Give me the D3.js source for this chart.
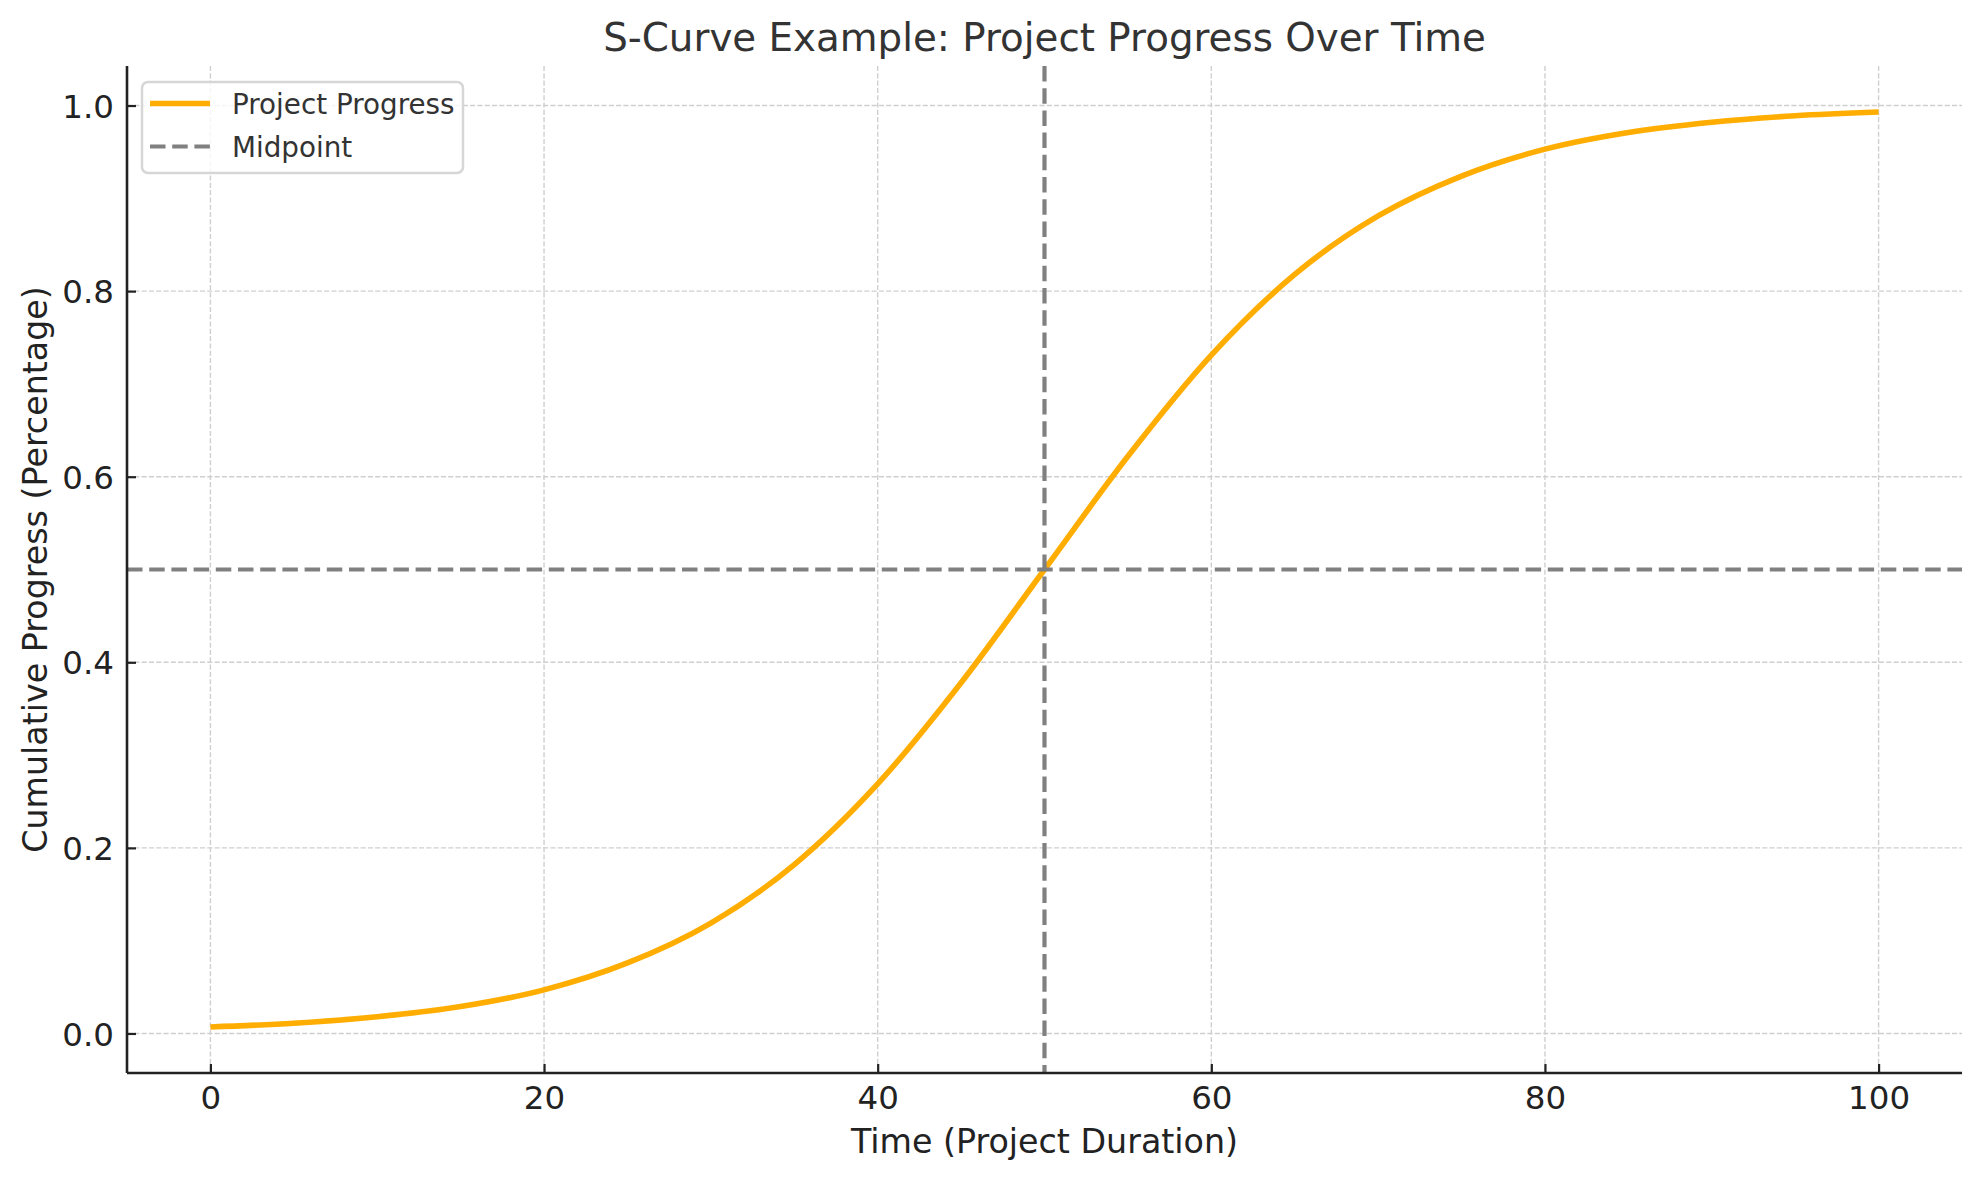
<!DOCTYPE html>
<html>
<head>
<meta charset="utf-8">
<script src="https://cdn.jsdelivr.net/npm/d3@7"></script>
<style>
  body { margin: 0; background: #fff; }
  text { font-family: "DejaVu Sans", sans-serif; }
</style>
</head>
<body>
<div id="chart"></div>
<script>
// values
var timePoints = [0, 5, 10, 15, 20, 25, 30, 35, 40, 45, 50, 55, 60, 65, 70, 75, 80, 85, 90, 95, 100];
var progressValues = [0.007, 0.011, 0.018, 0.029, 0.047, 0.076, 0.119, 0.182, 0.269, 0.378, 0.500,
                      0.622, 0.731, 0.818, 0.881, 0.924, 0.953, 0.971, 0.982, 0.989, 0.993];
var midTime = 50;
var midProgress = 0.5;
var xTicks = [0, 20, 40, 60, 80, 100];
var yTicks = [0.0, 0.2, 0.4, 0.6, 0.8, 1.0];
var seriesNames = ["Project Progress", "Midpoint"];

var W = 1979, H = 1180;
var plotLeft = 127, plotRight = 1962, plotTop = 66, plotBottom = 1073;
var curveColor = "#ffad00", midColor = "#808080";

var svg = d3.select("#chart").append("svg")
  .attr("width", W).attr("height", H);

var x = d3.scaleLinear().domain([-5, 105]).range([plotLeft, plotRight]);
var y = d3.scaleLinear().domain([-0.0426, 1.0426]).range([plotBottom, plotTop]);

// grid
var grid = svg.append("g");
grid.selectAll("line.vg").data(xTicks).enter().append("line")
  .attr("x1", function (d) { return x(d); }).attr("x2", function (d) { return x(d); })
  .attr("y1", plotTop).attr("y2", plotBottom);
grid.selectAll("line.hg").data(yTicks).enter().append("line")
  .attr("y1", function (d) { return y(d); }).attr("y2", function (d) { return y(d); })
  .attr("x1", plotLeft).attr("x2", plotRight);
grid.selectAll("line")
  .attr("stroke", "#cfcfcf").attr("stroke-width", 1.4)
  .attr("stroke-dasharray", "5.1,2.2");

// the s-curve
var data = timePoints.map(function (t, i) { return [t, progressValues[i]]; });
var line = d3.line()
  .x(function (d) { return x(d[0]); })
  .y(function (d) { return y(d[1]); })
  .curve(d3.curveMonotoneX);
svg.append("path").datum(data)
  .attr("d", line)
  .attr("fill", "none")
  .attr("stroke", curveColor)
  .attr("stroke-width", 5.6);

// midpoint lines
svg.append("line")
  .attr("x1", x(midTime)).attr("x2", x(midTime))
  .attr("y1", plotTop).attr("y2", plotBottom)
  .attr("stroke", midColor).attr("stroke-width", 4.2)
  .attr("stroke-dasharray", "15.5,6.7");
svg.append("line")
  .attr("x1", plotLeft).attr("x2", plotRight)
  .attr("y1", y(midProgress)).attr("y2", y(midProgress))
  .attr("stroke", midColor).attr("stroke-width", 4.2)
  .attr("stroke-dasharray", "15.5,6.7");

// axes (ticks point inward)
var xAxis = d3.axisBottom(x).tickValues(xTicks).tickSizeInner(-9).tickSizeOuter(0)
  .tickPadding(0).tickFormat(d3.format("d"));
var gx = svg.append("g").attr("transform", "translate(0," + plotBottom + ")").call(xAxis);
gx.selectAll(".tick line").attr("stroke", "#222").attr("stroke-width", 2.2);
gx.selectAll(".tick text")
  .attr("y", 36).attr("dy", null)
  .attr("fill", "#222").style("font-size", "32.5px");

var yAxis = d3.axisLeft(y).tickValues(yTicks).tickSizeInner(-9).tickSizeOuter(0)
  .tickPadding(0).tickFormat(d3.format(".1f"));
var gy = svg.append("g").attr("transform", "translate(" + plotLeft + ",0)").call(yAxis);
gy.selectAll(".tick line").attr("stroke", "#222").attr("stroke-width", 2.2);
gy.selectAll(".tick text")
  .attr("x", -13).attr("dy", "0.36em")
  .attr("fill", "#222").style("font-size", "32.5px");
gx.select(".domain").remove();
gy.select(".domain").remove();

// spines: left and bottom only
svg.append("line").attr("x1", plotLeft).attr("x2", plotRight).attr("y1", plotBottom).attr("y2", plotBottom)
  .attr("stroke", "#222").attr("stroke-width", 2.6);
svg.append("line").attr("x1", plotLeft).attr("x2", plotLeft).attr("y1", plotTop).attr("y2", plotBottom)
  .attr("stroke", "#222").attr("stroke-width", 2.6);

// titles
svg.append("text")
  .attr("x", (plotLeft + plotRight) / 2).attr("y", 51)
  .attr("text-anchor", "middle").attr("fill", "#333")
  .style("font-size", "38.8px")
  .text("S-Curve Example: Project Progress Over Time");
svg.append("text")
  .attr("x", (plotLeft + plotRight) / 2).attr("y", 1153)
  .attr("text-anchor", "middle").attr("fill", "#222")
  .style("font-size", "33.3px")
  .text("Time (Project Duration)");
svg.append("text")
  .attr("transform", "translate(47," + (plotTop + plotBottom) / 2 + ") rotate(-90)")
  .attr("text-anchor", "middle").attr("fill", "#222")
  .style("font-size", "33.3px")
  .text("Cumulative Progress (Percentage)");

// legend
var lg = svg.append("g");
lg.append("rect")
  .attr("x", 142).attr("y", 82).attr("width", 321).attr("height", 91)
  .attr("rx", 6).attr("ry", 6)
  .attr("fill", "#fff").attr("fill-opacity", 0.8)
  .attr("stroke", "#d6d6d6").attr("stroke-width", 2.5);
var rows = lg.selectAll("g.row").data(seriesNames).enter().append("g")
  .attr("transform", function (d, i) { return "translate(0," + (103.5 + i * 43) + ")"; });
rows.append("line")
  .attr("x1", 150).attr("x2", 210).attr("y1", 0).attr("y2", 0)
  .attr("stroke", function (d, i) { return i === 0 ? curveColor : midColor; })
  .attr("stroke-width", function (d, i) { return i === 0 ? 5.6 : 4.2; })
  .attr("stroke-dasharray", function (d, i) { return i === 0 ? null : "15.5,6.7"; });
rows.append("text")
  .attr("x", 232).attr("y", 10.5)
  .attr("fill", "#333").style("font-size", "27.8px")
  .text(function (d) { return d; });
</script>
</body>
</html>
